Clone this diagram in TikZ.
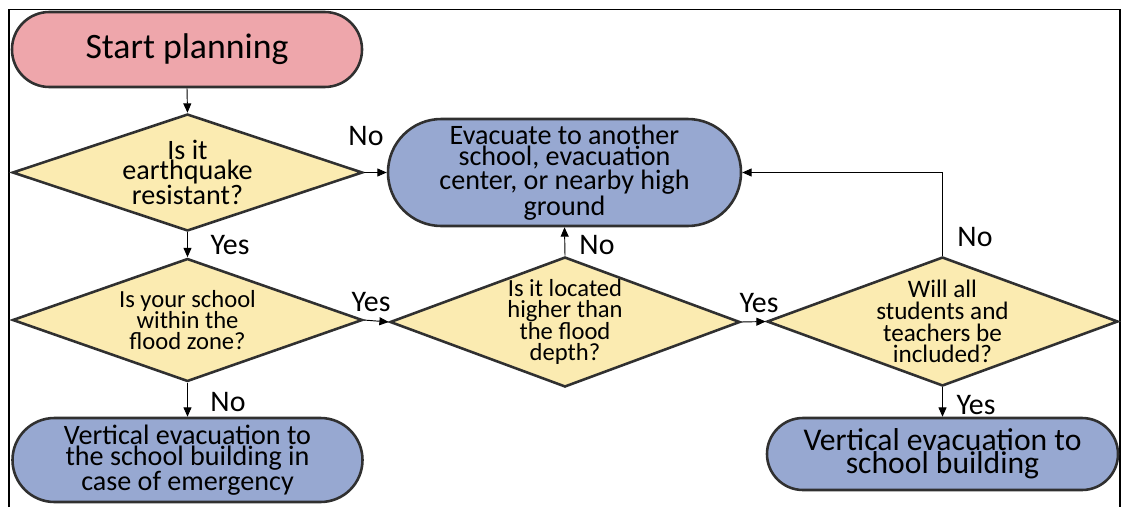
\documentclass[tikz,border=0pt]{standalone}
\usepackage{fontspec}
\setmainfont{Carlito}
\usetikzlibrary{arrows.meta,shapes.geometric}
\definecolor{cstart}{HTML}{EEA6AB}
\definecolor{cdec}{HTML}{FBEBB1}
\definecolor{cend}{HTML}{97A8D1}
\definecolor{cedge}{HTML}{303030}
\tikzset{
  term/.style={rectangle, draw=cedge, line width=2.2pt, align=center, inner sep=0pt},
  startb/.style={term, fill=cstart, font=\fontsize{30.5}{36}\selectfont},
  outb/.style={term, fill=cend},
  dec/.style={diamond, aspect=3, draw=cedge, fill=cdec, line width=2.2pt,
              align=center, inner sep=-8pt, font=\fontsize{21}{18.2}\selectfont},
  arr/.style={-{Triangle[length=2.8mm,width=2.4mm]}, line width=0.8pt},
  lbl/.style={font=\fontsize{25.5}{30}\selectfont, inner sep=0pt}
}

\begin{document}
\begin{tikzpicture}
\useasboundingbox (0,0) rectangle (33.75,-15.21);
\draw[line width=1.6pt] (0.27,-15.21) -- (0.27,-0.285) -- (33.6,-0.285) -- (33.6,-15.21);

\node[startb, minimum width=10.5cm, minimum height=2.25cm, rounded corners=1.12cm]
 (start) at (5.61,-1.485) {Start planning};

\node[dec, minimum width=10.5cm, minimum height=3.51cm,
      font=\fontsize{24}{17.5}\selectfont] (quake) at (5.625,-5.175)
 {Is it\\earthquake\\resistant?};

\node[outb, minimum width=10.59cm, minimum height=3.21cm, rounded corners=1.6cm,
      font=\fontsize{24}{18.2}\selectfont] (evac) at (16.935,-5.175)
 {Evacuate to another\\school, evacuation\\center, or nearby high\\ground};

\node[dec, minimum width=10.5cm, minimum height=3.69cm] (zone) at (5.625,-9.6)
 {Is your school\\within the\\flood zone?};

\node[dec, minimum width=10.5cm, minimum height=3.9cm] (depth) at (16.95,-9.66)
 {Is it located\\higher than\\the flood\\depth?};

\node[dec, minimum width=10.53cm, minimum height=3.87cm,
      font=\fontsize{21.5}{18.6}\selectfont] (all) at (28.275,-9.645)
 {Will all\\students and\\teachers be\\included?};

\node[outb, minimum width=10.5cm, minimum height=2.52cm, rounded corners=1.26cm,
      font=\fontsize{24}{18}\selectfont] (vert1) at (5.625,-13.8)
 {Vertical evacuation to\\the school building in\\case of emergency};

\node[outb, minimum width=10.53cm, minimum height=2.16cm, rounded corners=1.08cm,
      font=\fontsize{27}{20}\selectfont] (vert2) at (28.275,-13.62)
 {Vertical evacuation to\\school building};

\draw[arr] (start.south) -- (quake.north);
\draw[arr] (quake.east) -- (evac.west);
\draw[arr] (quake.south) -- (zone.north);
\draw[arr] (zone.east) -- (depth.west);
\draw[arr] (depth.north) -- (evac.south);
\draw[arr] (depth.east) -- (all.west);
\draw[arr] (all.north) |- (evac.east);
\draw[arr] (all.south) -- (vert2.north);
\draw[arr] (zone.south) -- (vert1.north);

\node[lbl] (no1) at (10.98,-4.08) {No};
\node[lbl] (yes1) at (6.9,-7.35) {Yes};
\node[lbl] (yes2) at (11.13,-9.06) {Yes};
\node[lbl] (no2) at (17.91,-7.35) {No};
\node[lbl] (yes3) at (22.77,-9.09) {Yes};
\node[lbl] (no3) at (29.25,-7.11) {No};
\node[lbl] (yes4) at (29.28,-12.15) {Yes};
\node[lbl] (no4) at (6.84,-12.06) {No};

\end{tikzpicture}
\end{document}
